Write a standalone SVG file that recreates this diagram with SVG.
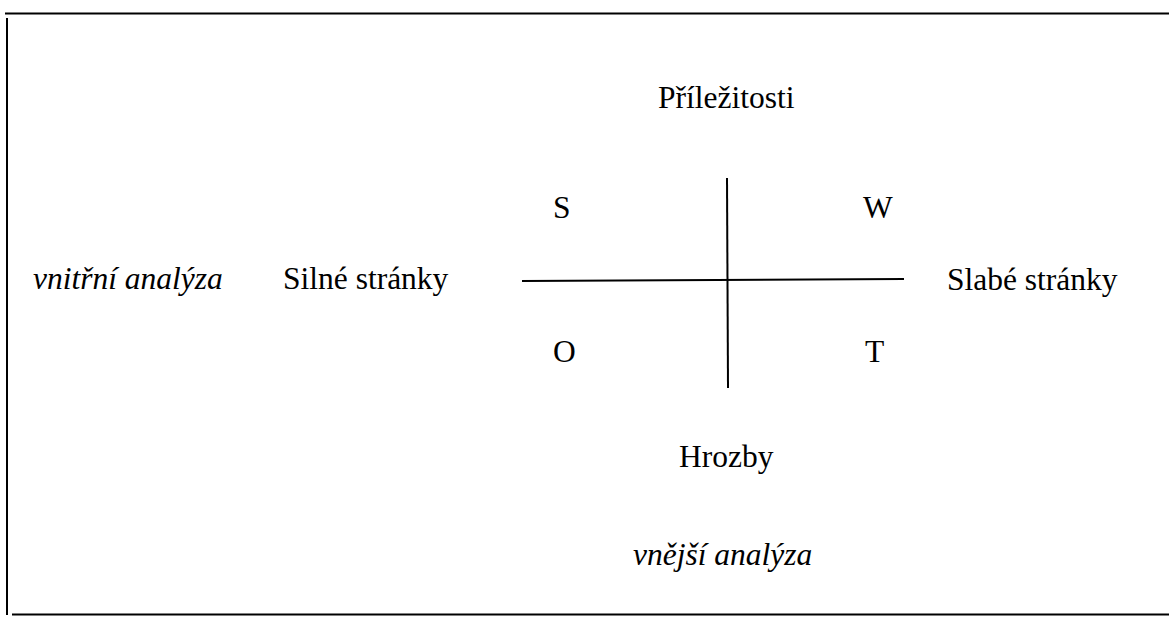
<svg xmlns="http://www.w3.org/2000/svg" width="1169" height="617" viewBox="0 0 1169 617">
<style>
text{font-family:'Liberation Serif',Tinos,'Times New Roman','DejaVu Serif','Noto Serif',serif;font-size:31.5px;fill:#000}
.i{font-style:italic}
.ln{stroke:#000;stroke-width:2;fill:none}
</style>
<rect width="1169" height="617" fill="#fff"/>
<g id="frame">
<line class="ln" x1="5" y1="13.5" x2="1169" y2="13.5"/>
<line class="ln" x1="7" y1="18" x2="7" y2="615"/>
<line class="ln" x1="12" y1="614.5" x2="1169" y2="614.5"/>
</g>
<g id="connectors">
<line class="ln" x1="727" y1="178" x2="728" y2="388"/>
<line class="ln" x1="522" y1="281" x2="904" y2="279"/>
</g>
<g id="prilezitosti"><text font-family="Liberation Serif" x="658" y="108">Příležitosti</text></g>
<g id="hrozby"><text font-family="Liberation Serif" x="679" y="467">Hrozby</text></g>
<g id="silne"><text font-family="Liberation Serif" x="283" y="289">Silné stránky</text></g>
<g id="slabe"><text font-family="Liberation Serif" x="947" y="290">Slabé stránky</text></g>
<g id="vnitrni"><text class="i" font-family="Liberation Serif" x="33" y="289">vnitřní analýza</text></g>
<g id="vnejsi"><text class="i" font-family="Liberation Serif" x="633" y="565">vnější analýza</text></g>
<g id="S"><text font-family="Liberation Serif" x="553" y="218">S</text></g>
<g id="W"><text font-family="Liberation Serif" x="863" y="218">W</text></g>
<g id="O"><text font-family="Liberation Serif" x="553" y="362">O</text></g>
<g id="T"><text font-family="Liberation Serif" x="865" y="362">T</text></g>
</svg>
